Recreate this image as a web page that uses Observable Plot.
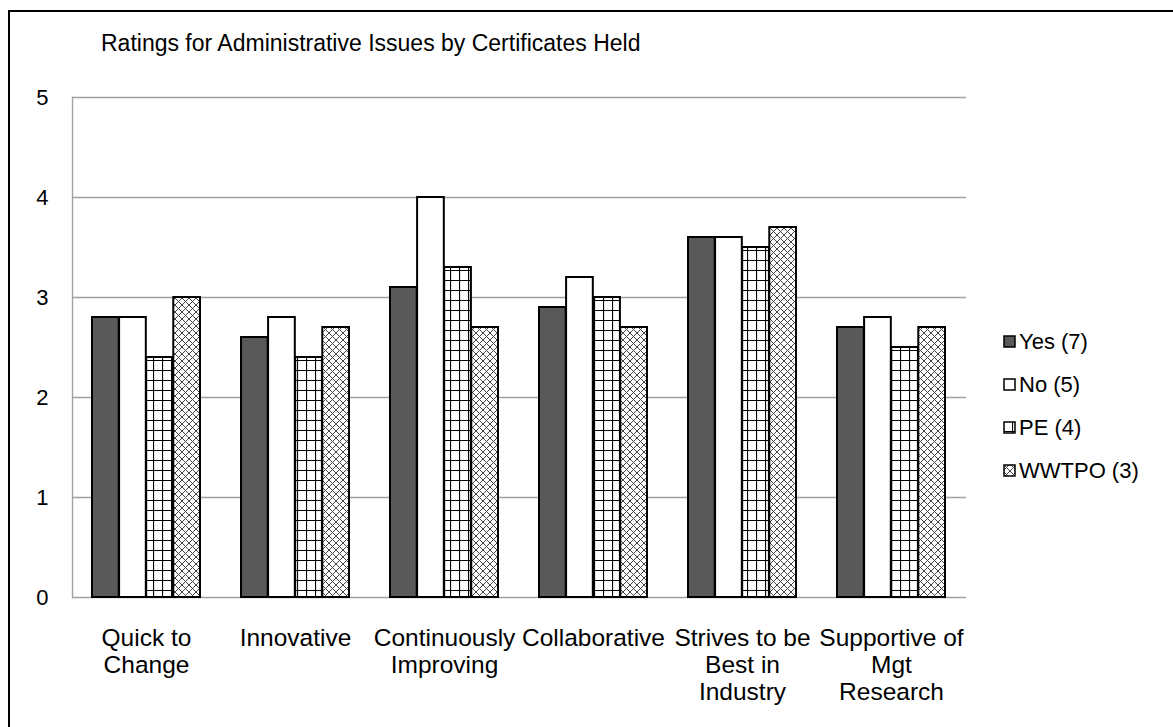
<!DOCTYPE html>
<html>
<head>
<meta charset="utf-8">
<script src="https://cdn.jsdelivr.net/npm/d3@7"></script>
<script src="https://cdn.jsdelivr.net/npm/@observablehq/plot@0.6"></script>
<style>
  html, body { margin: 0; padding: 0; background: #fff; }
  #chart { position: relative; width: 1173px; height: 727px; overflow: hidden;
           font-family: "Liberation Sans", Arial, sans-serif; color: #000; background: #fff; }
  #frame { position: absolute; left: 8px; top: 10px; width: 1400px; height: 1000px;
           border: 2px solid #000; box-sizing: border-box; }
  #title { position: absolute; left: 101px; top: 0; height: 60px; line-height: 86px;
           font-size: 23px; white-space: nowrap; }
  #plot { position: absolute; left: 0; top: 60px; }
  #legend { position: absolute; left: 1003px; top: 320px; font-size: 22px; }
  .item { display: flex; align-items: center; height: 43px; white-space: nowrap; }
  .item svg { margin-right: 3px; }
</style>
</head>
<body>
<div id="chart">
  <div id="frame"></div>
  <div id="title">Ratings for Administrative Issues by Certificates Held</div>
  <div id="plot"></div>
  <div id="legend"></div>
</div>
<script>
// Categories (rated administrative issues) and their wrapped axis labels
const categories = ["Quick to Change", "Innovative", "Continuously Improving",
  "Collaborative", "Strives to be Best in Industry", "Supportive of Mgt Research"];
const categoryLabels = ["Quick to\nChange", "Innovative", "Continuously\nImproving",
  "Collaborative", "Strives to be\nBest in\nIndustry", "Supportive of\nMgt\nResearch"];

// Respondent groups by certificate held
const series = ["Yes (7)", "No (5)", "PE (4)", "WWTPO (3)"];

// Mean rating per category for each group
const yes   = [2.8, 2.6, 3.1, 2.9, 3.6, 2.7];
const no    = [2.8, 2.8, 4.0, 3.2, 3.6, 2.8];
const pe    = [2.4, 2.4, 3.3, 3.0, 3.5, 2.5];
const wwtpo = [3.0, 2.7, 2.7, 2.7, 3.7, 2.7];

const yTicks = [0, 1, 2, 3, 4, 5];

// Fills: solid dark grey, white, square grid and diagonal cross-hatch
const fills = ["#595959", "#ffffff", "url(#pe-grid)", "url(#wwtpo-cross)"];
const values = [yes, no, pe, wwtpo];

const width = 1173, height = 667;
const marginLeft = 72, marginRight = 207, marginTop = 37, marginBottom = 130;
const innerW = width - marginLeft - marginRight;
const padInner = 0.2727, padOuter = padInner / 2;
const step = innerW / (categories.length - padInner + 2 * padOuter);
const band = step * (1 - padInner);
const barW = band / series.length;

// One bar mark per group, each taking its own quarter of the category band
const barMarks = series.map((s, i) =>
  Plot.barY(categories.map((c, j) => ({category: c, value: values[i][j]})), {
    x: "category",
    y: "value",
    fill: fills[i],
    stroke: "#000",
    strokeWidth: 2,
    insetLeft: barW * i,
    insetRight: barW * (series.length - 1 - i)
  })
);

const chart = Plot.plot({
  width, height, marginLeft, marginRight, marginTop, marginBottom,
  style: {fontFamily: "'Liberation Sans', Arial, sans-serif", fontSize: "22px", background: "none"},
  x: {domain: categories, paddingInner: padInner, paddingOuter: padOuter, axis: null},
  y: {domain: [0, 5], axis: null},
  marks: [
    Plot.ruleY(yTicks, {stroke: "#a0a0a0", strokeWidth: 1.4}),
    Plot.frame({anchor: "left", stroke: "#a0a0a0", strokeWidth: 1.4}),
    ...barMarks,
    Plot.text(yTicks, {y: d => d, text: d => String(d), frameAnchor: "left",
      textAnchor: "end", dx: -24, fill: "#000", fontSize: 22}),
    Plot.text(categories, {x: d => d, text: (d, i) => categoryLabels[i],
      frameAnchor: "bottom", lineAnchor: "top", dy: 29, lineHeight: 1.1,
      fill: "#000", fontSize: 24.5})
  ]
});

// Hatch patterns used by the PE and WWTPO bars
const defs = d3.select(chart).insert("defs", ":first-child");
const grid = defs.append("pattern").attr("id", "pe-grid")
  .attr("patternUnits", "userSpaceOnUse").attr("width", 9).attr("height", 10);
grid.append("rect").attr("width", 9).attr("height", 10).attr("fill", "#fff");
grid.append("path").attr("d", "M0 0.5H9M0.5 0V10").attr("stroke", "#000").attr("stroke-width", 1.2);
const cross = defs.append("pattern").attr("id", "wwtpo-cross")
  .attr("patternUnits", "userSpaceOnUse").attr("width", 7).attr("height", 7);
cross.append("rect").attr("width", 7).attr("height", 7).attr("fill", "#fff");
cross.append("path").attr("d", "M0 0L7 7M7 0L0 7").attr("stroke", "#444").attr("stroke-width", 1);

document.getElementById("plot").appendChild(chart);

// Legend with matching swatches
const legend = d3.select("#legend");
series.forEach((s, i) => {
  const item = legend.append("div").attr("class", "item");
  const sw = item.append("svg").attr("width", 13).attr("height", 13);
  sw.append("rect").attr("x", 1).attr("y", 1).attr("width", 11).attr("height", 11)
    .attr("fill", fills[i]).attr("stroke", "#000").attr("stroke-width", 1.5);
  item.append("span").text(s);
});
</script>
</body>
</html>
